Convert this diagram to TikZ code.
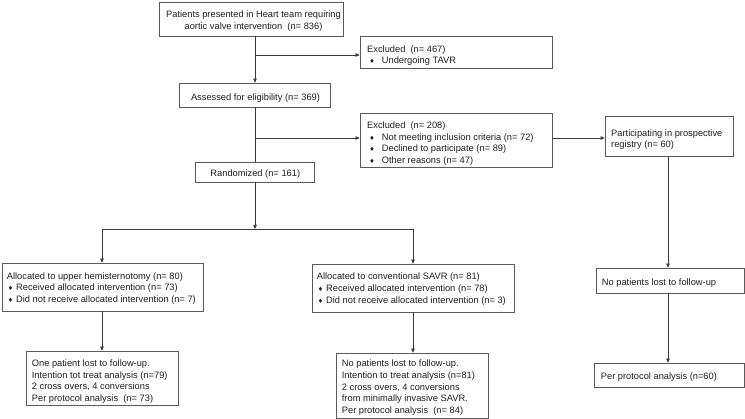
\documentclass[tikz,border=0pt]{standalone}
\usepackage{fontspec}
\setmainfont{Liberation Sans}
\newfontfamily\dejavu{DejaVu Sans}
\usetikzlibrary{arrows.meta}
\definecolor{ln}{HTML}{3A3A3A}
\definecolor{bx}{HTML}{5A5A5A}
\definecolor{tx}{HTML}{1E1E1E}
\newcommand{\dia}{{\dejavu\fontsize{6}{6}\selectfont ♦}}
\newcommand{\bwide}{\hspace*{2.2pt}\makebox[12.5pt][l]{\dia}}
\newcommand{\bnarrow}{\hspace*{1pt}\makebox[8.3pt][l]{\dia}}
\begin{document}
\begin{tikzpicture}[x=1pt,y=-1pt,
  box/.style={draw=bx, line width=0.6pt, inner sep=0pt},
  txt/.style={inner sep=0pt, font=\fontsize{9.3}{11.7}\selectfont, text=tx},
  lt/.style={txt, align=left, anchor=west},
  ct/.style={txt, align=center},
  ln/.style={draw=ln, line width=0.7pt},
  arr/.style={ln, -{Triangle[length=4pt,width=3.5pt]}}]
\useasboundingbox (0,0) rectangle (745,419);

% boxes
\node[box, minimum width=184pt, minimum height=34pt] (pat) at (251,19) {};
\node[box, minimum width=192pt, minimum height=32pt] (exc1) at (456,52) {};
\node[box, minimum width=151pt, minimum height=24pt] (assess) at (254.5,95) {};
\node[box, minimum width=192pt, minimum height=54pt] (exc2) at (456,140) {};
\node[box, minimum width=128pt, minimum height=40pt] (part) at (669,136.5) {};
\node[box, minimum width=119pt, minimum height=20pt] (rand) at (254.5,172) {};
\node[box, minimum width=201pt, minimum height=48pt] (hemi) at (102.5,287) {};
\node[box, minimum width=202pt, minimum height=48pt] (savr) at (413,288) {};
\node[box, minimum width=152pt, minimum height=54pt] (one) at (102,378) {};
\node[box, minimum width=152pt, minimum height=65pt] (nopat) at (412,385.5) {};
\node[box, minimum width=148pt, minimum height=25pt] (nolost) at (670,280.5) {};
\node[box, minimum width=150pt, minimum height=24pt] (pp) at (669,375) {};

% texts
\node[ct] (patT) at (253.5,21)
  {Patients presented in Heart team requiring\\aortic valve intervention\ \ (n= 836)};
\node[lt] (exc1T) at (367,55.5)
  {Excluded\ \ (n= 467)\\\bwide Undergoing TAVR};
\node[ct] (assessT) at (255.5,98) {Assessed for eligibility (n= 369)};
\node[lt] (exc2T) at (367,143.7)
  {Excluded\ \ (n= 208)\\\bwide Not meeting inclusion criteria (n= 72)\\\bwide Declined to participate (n= 89)\\\bwide Other reasons (n= 47)};
\node[lt] (partT) at (611,139.7)
  {Participating in prospective\\registry (n= 60)};
\node[ct] (randT) at (255.3,174) {Randomized (n= 161)};
\node[lt] (hemiT) at (6.7,288.5)
  {Allocated to upper hemisternotomy (n= 80)\\\bnarrow Received allocated intervention (n= 73)\\\bnarrow Did not receive allocated intervention (n= 7)};
\node[lt] (savrT) at (316.7,289.2)
  {Allocated to conventional SAVR (n= 81)\\\bnarrow Received allocated intervention (n= 78)\\\bnarrow Did not receive allocated intervention (n= 3)};
\node[lt] (oneT) at (31.7,381.7)
  {One patient lost to follow-up.\\Intention tot treat analysis (n=79)\\2 cross overs, 4 conversions\\Per protocol analysis\ \ (n= 73)};
\node[lt] (nopatT) at (341.7,387.7)
  {No patients lost to follow-up.\\Intention to treat analysis (n=81)\\2 cross overs, 4 conversions\\from minimally invasive SAVR.\\Per protocol analysis\ \ (n= 84)};
\node[lt] (nolostT) at (601.7,283.2) {No patients lost to follow-up};
\node[lt] (ppT) at (600.7,377.2) {Per protocol analysis (n=60)};

% junctions
\coordinate (s1) at (255,55);
\coordinate (s2) at (255,138);
\coordinate (sp) at (255,229);
\coordinate (lb) at (102,229);
\coordinate (rb) at (413,229);
\coordinate (rc) at (668,0);

\draw[arr] (pat.south -| s1) -- (assess.north -| s1);
\draw[arr] (s1) -- (s1 -| exc1.west);
\draw[ln] (assess.south -| s2) -- (rand.north -| s2);
\draw[arr] (s2) -- (s2 -| exc2.west);
\draw[arr] (s2 -| exc2.east) -- (s2 -| part.west);
\draw[arr] (rand.south -| sp) -- (sp);
\draw[ln] (lb) -- (rb);
\draw[arr] (lb) -- (lb |- hemi.north);
\draw[arr] (rb) -- (rb |- savr.north);
\draw[arr] (hemi.south -| lb) -- (one.north -| lb);
\draw[arr] (savr.south -| rb) -- (nopat.north -| rb);
\draw[arr] (part.south -| rc) -- (nolost.north -| rc);
\draw[arr] (nolost.south -| rc) -- (pp.north -| rc);
\end{tikzpicture}
\end{document}
